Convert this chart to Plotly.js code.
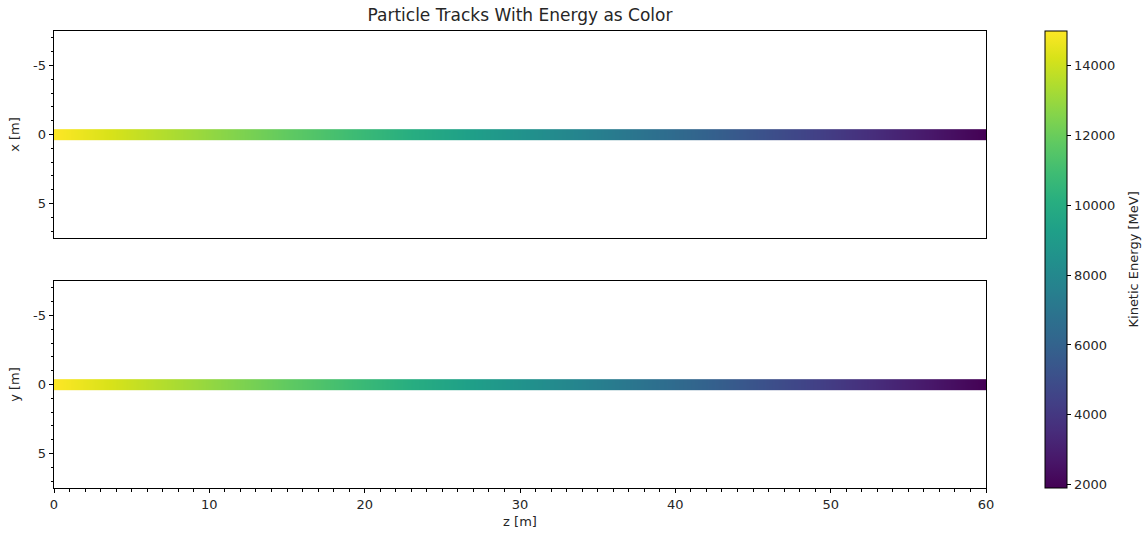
<!DOCTYPE html>
<html>
<head>
<meta charset="utf-8">
<script src="https://cdn.plot.ly/plotly-3.0.1.min.js"></script>
<style>html,body{margin:0;padding:0;background:#fff;}#chart{width:1144px;height:536px;}</style>
</head>
<body>
<div id="chart"></div>
<script>
// Track samples
var zPos = [0, 5, 10, 15, 20, 25, 30, 35, 40, 45, 50, 55, 60];
var energyMeV = [14980, 13920, 12880, 11800, 10720, 9640, 8580, 7500, 6420, 5300, 4180, 3050, 1910];
var trackX = [0, 0, 0, 0, 0, 0, 0, 0, 0, 0, 0, 0, 0];
var trackY = [0, 0, 0, 0, 0, 0, 0, 0, 0, 0, 0, 0, 0];
var colorbarTicks = [2000, 4000, 6000, 8000, 10000, 12000, 14000];
var colorbarLabels = ['2000', '4000', '6000', '8000', '10000', '12000', '14000'];
var energyMin = 1910, energyMax = 14980;

var TRACK_W = 0.77;
var FONT = 'DejaVu Sans, sans-serif';
var TXT = '#262626';
var FS = 13;

function bandTrace(offsets, xa, ya) {
  var c = offsets[0];
  return {
    type: 'heatmap',
    x: zPos,
    y0: c - TRACK_W / 4,
    dy: TRACK_W / 2,
    z: [energyMeV, energyMeV],
    coloraxis: 'coloraxis',
    zsmooth: 'best',
    xaxis: xa, yaxis: ya,
    hoverinfo: 'skip'
  };
}

var data = [bandTrace(trackX, 'x', 'y'), bandTrace(trackY, 'x2', 'y2')];

var axisCommon = {
  showline: true, mirror: true, linecolor: '#000', linewidth: 1,
  showgrid: false, zeroline: false,
  ticks: 'outside', ticklen: 4.4, tickwidth: 1, tickcolor: '#000',
  tickfont: {family: FONT, size: FS, color: TXT}
};

function yAxis(domain, title) {
  return Object.assign({}, axisCommon, {
    domain: domain,
    range: [7.5, -7.5],
    tickvals: [-5, 0, 5], ticktext: ['-5', '0', '5'],
    minor: {dtick: 1, tick0: 0, ticks: 'outside', ticklen: 2.5, tickwidth: 1, tickcolor: '#000'},
    title: {text: title, font: {family: FONT, size: FS, color: TXT}, standoff: 10}
  });
}

var layout = {
  width: 1144, height: 536,
  margin: {l: 54, r: 158, t: 31, b: 48},
  paper_bgcolor: '#fff', plot_bgcolor: '#fff',
  showlegend: false,
  title: {text: 'Particle Tracks With Energy as Color', font: {family: FONT, size: 17, color: TXT},
          x: 0.5, xref: 'paper', xanchor: 'center', y: 1 - 15/536, yref: 'container', yanchor: 'middle'},
  xaxis: Object.assign({}, axisCommon, {
    domain: [0, 1], anchor: 'y', matches: 'x2', range: [0, 60],
    ticks: '', showticklabels: false
  }),
  yaxis: yAxis([250/457, 1], 'x [m]'),
  xaxis2: Object.assign({}, axisCommon, {
    domain: [0, 1], anchor: 'y2', range: [0, 60],
    dtick: 10, tick0: 0,
    minor: {dtick: 1, tick0: 0, ticks: 'outside', ticklen: 2.5, tickwidth: 1, tickcolor: '#000'},
    title: {text: 'z [m]', font: {family: FONT, size: FS, color: TXT}, standoff: 5}
  }),
  yaxis2: Object.assign(yAxis([0, 207/457], 'y [m]'), {anchor: 'x2'}),
  coloraxis: {
    colorscale: 'Viridis', cmin: energyMin, cmax: energyMax,
    colorbar: {
      x: (1045 - 54) / 932, xref: 'paper', xanchor: 'left', xpad: 0,
      y: 0.5, yanchor: 'middle', ypad: 0, len: 1, lenmode: 'fraction',
      thickness: 22, outlinewidth: 1, outlinecolor: '#000',
      ticks: 'outside', ticklen: 4.4, tickwidth: 1, tickcolor: '#000',
      tickvals: colorbarTicks, ticktext: colorbarLabels, tickmode: 'array',
      tickfont: {family: FONT, size: FS, color: TXT}
    }
  },
  annotations: [{
    text: 'Kinetic Energy [MeV]', xref: 'paper', yref: 'paper',
    x: (1133 - 54) / 932, y: 0.5, xanchor: 'center', yanchor: 'middle',
    textangle: -90, showarrow: false,
    font: {family: FONT, size: FS, color: TXT}
  }]
};

Plotly.newPlot('chart', data, layout, {displayModeBar: false, staticPlot: true});
</script>
</body>
</html>
